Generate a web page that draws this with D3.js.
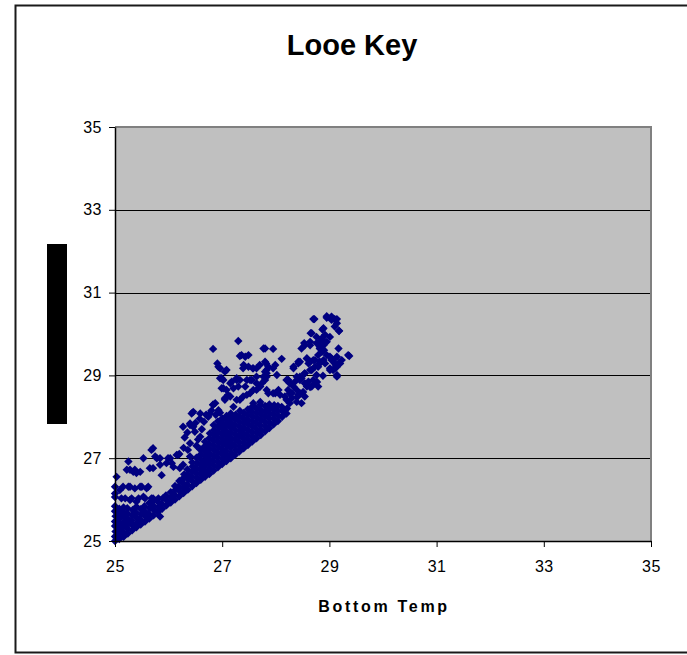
<!DOCTYPE html>
<html>
<head>
<meta charset="utf-8">
<script src="https://cdn.jsdelivr.net/npm/d3@7/dist/d3.min.js"></script>
<style>
  html, body { margin: 0; padding: 0; background: #fff; }
  svg { display: block; }
  text { font-family: Arial, "Liberation Sans", sans-serif; }
</style>
</head>
<body>
<svg id="chart" width="687" height="655"></svg>
<script>
// Looe Key: surface temperature against bottom temperature, degrees C
const chartTitle = "Looe Key";
const xAxisTitle = "Bottom Temp";
const yAxisTitle = "Surface Temp";
const xTicks = [25, 27, 29, 31, 33, 35];
const yTicks = [25, 27, 29, 31, 33, 35];

// [bottom, surface] readings in the dense band just above the 1:1 line
const bandReadings = [
  [25.00,25.00],[25.00,25.11],[25.01,25.23],[25.00,25.36],[25.00,25.47],[25.01,25.60],[25.00,25.72],[25.00,25.84],
  [25.08,25.05],[25.07,25.17],[25.08,25.29],[25.09,25.42],[25.08,25.54],[25.07,25.66],[25.08,25.78],
  [25.16,25.10],[25.15,25.22],[25.16,25.35],[25.17,25.47],[25.16,25.60],[25.15,25.71],[25.16,25.81],
  [25.24,25.18],[25.23,25.30],[25.25,25.41],[25.24,25.53],[25.24,25.66],[25.23,25.79],
  [25.32,25.26],[25.33,25.38],[25.31,25.50],[25.32,25.62],[25.33,25.75],
  [25.40,25.33],[25.41,25.44],[25.40,25.57],[25.39,25.69],[25.40,25.83],
  [25.48,25.40],[25.47,25.52],[25.49,25.64],[25.48,25.77],
  [25.56,25.47],[25.57,25.59],[25.56,25.71],[25.55,25.84],
  [25.64,25.54],[25.63,25.66],[25.65,25.79],[25.64,25.92],
  [25.72,25.62],[25.73,25.74],[25.71,25.86],[25.72,25.97],
  [25.80,25.70],[25.81,25.82],[25.80,25.95],
  [25.88,25.78],[25.87,25.90],[25.89,26.03],
  [25.96,25.86],[25.97,25.98],[25.95,26.10],
  [26.04,25.93],[26.05,26.06],[26.04,26.18],
  [26.12,26.00],[26.11,26.12],[26.13,26.24],[26.12,26.33],
  [26.20,26.08],[26.21,26.20],[26.19,26.32],[26.20,26.45],
  [26.28,26.16],[26.29,26.28],[26.27,26.40],[26.28,26.52],[26.29,26.61],
  [26.36,26.24],[26.35,26.36],[26.37,26.48],[26.36,26.60],[26.35,26.73],
  [26.44,26.32],[26.45,26.44],[26.43,26.56],[26.44,26.68],[26.45,26.80],[26.44,26.90],
  [26.52,26.40],[26.53,26.52],[26.51,26.64],[26.52,26.76],[26.53,26.88],[26.52,27.01],
  [26.60,26.48],[26.61,26.60],[26.59,26.72],[26.60,26.84],[26.61,26.96],[26.60,27.09],[26.59,27.21],
  [26.68,26.55],[26.69,26.67],[26.67,26.79],[26.68,26.91],[26.69,27.04],[26.68,27.16],[26.67,27.28],[26.68,27.40],
  [26.76,26.62],[26.77,26.74],[26.75,26.86],[26.76,26.98],[26.77,27.11],[26.76,27.23],[26.75,27.35],[26.76,27.48],[26.77,27.60],
  [26.84,26.70],[26.85,26.82],[26.83,26.94],[26.84,27.06],[26.85,27.19],[26.84,27.31],[26.83,27.43],[26.84,27.56],[26.85,27.68],[26.84,27.80],
  [26.92,26.78],[26.93,26.90],[26.91,27.02],[26.92,27.14],[26.93,27.27],[26.92,27.39],[26.91,27.51],[26.92,27.64],[26.93,27.76],[26.92,27.89],
  [27.00,26.86],[27.01,26.98],[26.99,27.10],[27.00,27.22],[27.01,27.35],[27.00,27.47],[26.99,27.59],[27.00,27.72],[27.01,27.84],[27.00,27.96],
  [27.08,26.93],[27.09,27.05],[27.07,27.17],[27.08,27.30],[27.09,27.42],[27.08,27.54],[27.07,27.66],[27.08,27.79],[27.09,27.91],[27.08,28.02],
  [27.16,27.00],[27.17,27.12],[27.15,27.25],[27.16,27.37],[27.17,27.49],[27.16,27.61],[27.15,27.74],[27.16,27.86],[27.17,27.98],[27.16,28.08],
  [27.24,27.08],[27.25,27.20],[27.23,27.32],[27.24,27.45],[27.25,27.57],[27.24,27.69],[27.23,27.81],[27.24,27.94],[27.25,28.05],
  [27.32,27.16],[27.33,27.28],[27.31,27.40],[27.32,27.53],[27.33,27.65],[27.32,27.77],[27.31,27.89],[27.32,28.01],[27.33,28.14],
  [27.40,27.24],[27.41,27.36],[27.39,27.48],[27.40,27.60],[27.41,27.73],[27.40,27.85],[27.39,27.97],[27.40,28.09],
  [27.48,27.32],[27.49,27.44],[27.47,27.56],[27.48,27.68],[27.49,27.81],[27.48,27.93],[27.47,28.05],[27.48,28.18],
  [27.56,27.40],[27.57,27.52],[27.55,27.64],[27.56,27.77],[27.57,27.89],[27.56,28.01],[27.55,28.13],[27.56,28.24],
  [27.64,27.48],[27.65,27.60],[27.63,27.72],[27.64,27.85],[27.65,27.97],[27.64,28.09],[27.63,28.21],
  [27.72,27.56],[27.73,27.68],[27.71,27.80],[27.72,27.93],[27.73,28.05],[27.72,28.17],[27.71,28.29],
  [27.80,27.65],[27.81,27.77],[27.79,27.89],[27.80,28.01],[27.81,28.13],[27.80,28.26],
  [27.88,27.73],[27.89,27.85],[27.87,27.97],[27.88,28.09],[27.89,28.21],[27.88,28.30],
  [27.96,27.82],[27.97,27.94],[27.95,28.06],[27.96,28.18],[27.97,28.28],
  [28.04,27.90],[28.05,28.02],[28.03,28.14],[28.04,28.26],
  [28.12,28.00],[28.13,28.12],[28.11,28.24],
  [28.20,28.08],[28.21,28.20]
];

// [bottom, surface] readings scattered above the band and along its warm end
const scatterReadings = [
  [25.00,26.06],[25.00,26.15],[25.00,26.31],[25.03,26.55],[25.09,26.23],[25.12,26.03],
  [25.15,26.31],[25.25,26.31],[25.28,26.31],[25.37,26.27],[25.47,26.31],[25.50,26.31],[25.59,26.27],[25.62,26.31],
  [25.19,26.03],[25.28,25.99],[25.31,26.03],[25.40,25.95],[25.44,26.03],[25.53,26.07],[25.56,26.03],[25.68,26.03],[25.71,26.03],[25.81,26.03],
  [25.22,26.72],[25.28,26.72],[25.34,26.67],[25.37,26.72],[25.40,26.64],[25.47,26.67],[25.65,26.76],[25.71,26.76],[25.84,26.84],[25.87,26.59],
  [26.06,26.88],[26.21,26.76],[26.27,26.84],[26.09,26.79],[25.96,26.88],
  [25.25,26.92],[25.53,27.00],[25.78,27.00],[25.84,27.00],[25.99,27.00],[26.03,27.00],[26.15,27.08],[26.18,27.08],[26.40,27.04],
  [25.68,27.20],[25.71,27.24],[25.75,27.04],[25.84,25.59],
  [26.27,27.76],[26.40,27.84],[26.43,28.08],[26.46,28.12],[26.59,28.08],[26.74,28.00],[26.49,27.64],[26.59,27.52],[26.40,27.36],
  [26.40,27.80],[26.46,27.76],[26.83,28.29],[26.87,28.33],[26.77,28.08],[26.93,28.16],
  [26.30,27.50],[26.35,27.62],[26.52,27.30],[26.55,27.45],[26.50,27.85],[26.62,27.70],[26.66,27.88],[26.70,28.05],
  [26.58,27.95],[26.80,28.15],[26.88,28.05],[26.96,28.10],[26.36,27.20],[26.28,27.25],[26.20,27.10],
  [27.21,28.24],[27.33,28.41],[27.46,28.53],[27.58,28.65],[27.71,28.73],[27.83,28.65],[27.95,28.57],[28.08,28.53],
  [27.55,28.89],[27.64,28.81],[27.46,28.89],[27.30,28.73],[27.18,28.85],
  [27.02,28.89],[27.15,28.81],[27.21,28.69],[27.33,28.89],[27.43,28.73],[27.52,28.89],[27.64,28.97],[27.83,29.05],
  [27.74,28.81],[27.64,28.65],[27.52,28.57],[27.39,28.49],[27.27,28.41],[27.15,28.49],[27.05,28.41],[27.08,28.65],
  [26.99,28.69],[27.11,28.53],[27.05,28.45],[26.83,28.29],[27.58,28.33],[27.71,28.36],[27.83,28.24],
  [26.83,29.64],[27.30,29.83],[27.77,29.65],[27.95,29.64],[28.11,29.40],[27.33,29.47],[27.43,29.45],[27.36,29.49],[27.49,29.49],
  [26.91,29.29],[26.93,29.21],[27.08,29.13],[26.96,28.93],[27.27,28.93],[27.39,29.17],[27.58,29.17],[27.64,29.17],
  [27.83,29.13],[27.95,29.17],[27.77,28.97],[26.96,29.17],[27.05,29.09],[27.40,29.25],[27.49,29.21],[27.57,29.17],
  [27.70,29.25],[27.82,29.29],[26.99,28.93],[27.27,28.89],[27.02,28.69],
  [28.33,29.17],[28.45,29.33],[28.58,29.41],[28.70,29.37],[28.20,28.89],[28.26,28.81],[28.39,28.65],[28.45,28.57],
  [27.99,29.25],[27.86,29.21],[27.80,29.33],[28.42,29.29],[28.33,29.21],[28.61,29.29],[28.73,29.37],[28.79,29.21],
  [28.67,29.13],[28.54,29.05],[28.48,28.93],[29.04,29.37],[29.17,29.29],[29.10,29.17],[29.14,29.01],
  [27.83,28.97],[28.02,29.01],[27.80,29.09],[28.23,28.89],[28.36,28.85],[28.45,28.89],[28.61,28.85],[28.73,28.81],
  [28.79,28.73],[28.67,28.73],[28.54,28.81],[28.05,28.65],[27.99,28.57],[28.23,28.65],[28.26,28.57],[28.17,28.49],
  [28.30,28.45],[28.39,28.36],[28.42,28.53],[28.48,28.33],[28.54,28.49],[27.86,28.57],[27.80,28.89],
  [28.13,28.16],[28.26,28.33],[28.40,28.48],[28.51,28.60],[28.64,28.72],[28.77,28.84],[28.88,28.99],[29.01,29.13],[29.12,29.25],
  [28.23,28.89],[28.33,28.73],[28.45,28.97],[28.54,29.05],[28.64,29.13],[28.73,29.21],[28.82,29.29],[28.70,28.89],
  [28.58,28.73],[28.76,29.01],[28.89,29.37],[28.95,29.49],[28.82,29.69],[28.76,29.93],[28.86,29.90],[28.39,28.97],
  [28.30,28.57],[28.20,28.41],
  [28.70,30.36],[28.95,30.43],[29.04,30.42],[29.14,30.36],[28.87,30.11],[29.18,30.08],[28.65,30.02],[28.53,29.78],
  [28.64,29.73],[28.79,29.78],[28.90,29.61],[29.17,29.65],[29.37,29.47],[29.01,29.45],[29.07,29.37],[29.14,29.21],
  [29.07,29.13],[29.14,28.97],[29.01,29.17],
  [28.72,30.36],[28.95,30.39],[29.04,30.34],[29.10,30.36],[29.14,30.26],[28.89,30.14],[29.10,30.18],[29.18,30.07],
  [28.67,30.02],[28.92,29.98],[29.01,29.93],[28.64,29.81],[28.86,29.86],[28.95,29.81],[28.89,29.73],
  [28.54,29.73],[28.48,29.65],[28.76,29.78],[28.82,29.65],[28.86,29.57],[28.79,29.49],
  [29.35,29.49],[29.14,29.45],[29.04,29.41],[29.23,29.37],[29.10,29.29],[29.20,29.29],
  [27.80,29.65],[28.42,29.33],[28.58,29.41],[28.64,29.33],[28.82,29.33],[28.92,29.29]
];

const svg = d3.select("#chart");
const plot = { left: 115, right: 651, top: 127, bottom: 541 };

const x = d3.scaleLinear().domain([25, 35]).range([plot.left, plot.right]);
const y = d3.scaleLinear().domain([25, 35]).range([plot.bottom, plot.top]);

// outer chart frame
svg.append("rect")
  .attr("x", 15.5).attr("y", 5.5)
  .attr("width", 700).attr("height", 647)
  .attr("fill", "#fff").attr("stroke", "#1a1a1a").attr("stroke-width", 2);

// plot area
svg.append("rect")
  .attr("x", plot.left).attr("y", plot.top)
  .attr("width", plot.right - plot.left).attr("height", plot.bottom - plot.top)
  .attr("fill", "#c0c0c0");

// horizontal gridlines
svg.append("g")
  .selectAll("line")
  .data(yTicks.filter(t => t > 25 && t < 35))
  .join("line")
  .attr("x1", plot.left).attr("x2", plot.right)
  .attr("y1", d => Math.round(y(d)) + 0.5).attr("y2", d => Math.round(y(d)) + 0.5)
  .attr("stroke", "#000").attr("stroke-width", 1);

// grey border on top and right of plot area
svg.append("path")
  .attr("d", `M${plot.left},${plot.top}H${plot.right}V${plot.bottom}`)
  .attr("fill", "none").attr("stroke", "#808080").attr("stroke-width", 2);

// markers
const diamond = "M0,-4.2L4.2,0L0,4.2L-4.2,0Z";
const allReadings = bandReadings.concat(scatterReadings);
svg.append("g")
  .selectAll("path")
  .data(allReadings)
  .join("path")
  .attr("d", diamond)
  .attr("transform", d => `translate(${x(d[0])},${y(d[1])})`)
  .attr("fill", "#000080");

// axes
const xAxis = d3.axisBottom(x).tickValues(xTicks).tickSize(6).tickSizeOuter(0).tickPadding(14);
const yAxis = d3.axisLeft(y).tickValues(yTicks).tickSize(6).tickSizeOuter(0).tickPadding(7);

const gx = svg.append("g").attr("transform", `translate(0,${plot.bottom})`).call(xAxis);
const gy = svg.append("g").attr("transform", `translate(${plot.left},0)`).call(yAxis);

[gx, gy].forEach(g => {
  g.select(".domain").attr("stroke", "#000").attr("stroke-width", 1.5);
  g.selectAll(".tick line").attr("stroke", "#000");
  g.selectAll(".tick text")
    .attr("fill", "#000")
    .style("font-family", "Arial, 'Liberation Sans', sans-serif")
    .style("font-size", "16px")
    .style("letter-spacing", "0.5px");
});

// title
svg.append("text")
  .attr("x", 352).attr("y", 55)
  .attr("text-anchor", "middle")
  .style("font-size", "29px").style("font-weight", "bold")
  .text(chartTitle);

// x axis title
svg.append("text")
  .attr("x", (plot.left + plot.right) / 2 + 1).attr("y", 612)
  .attr("text-anchor", "middle")
  .style("font-size", "16px").style("font-weight", "bold")
  .style("letter-spacing", "2.7px")
  .text(xAxisTitle);

// y axis title, drawn on a solid black block
const yTitle = svg.append("g").attr("transform", `translate(57,${(plot.top + plot.bottom) / 2})`);
yTitle.append("rect")
  .attr("x", -10).attr("y", -90).attr("width", 20).attr("height", 180)
  .attr("fill", "#000");
yTitle.append("text")
  .attr("transform", "rotate(-90)")
  .attr("text-anchor", "middle").attr("dy", "0.35em")
  .attr("fill", "#000")
  .style("font-size", "16px").style("font-weight", "bold")
  .style("letter-spacing", "2.7px")
  .text(yAxisTitle);
</script>
</body>
</html>
